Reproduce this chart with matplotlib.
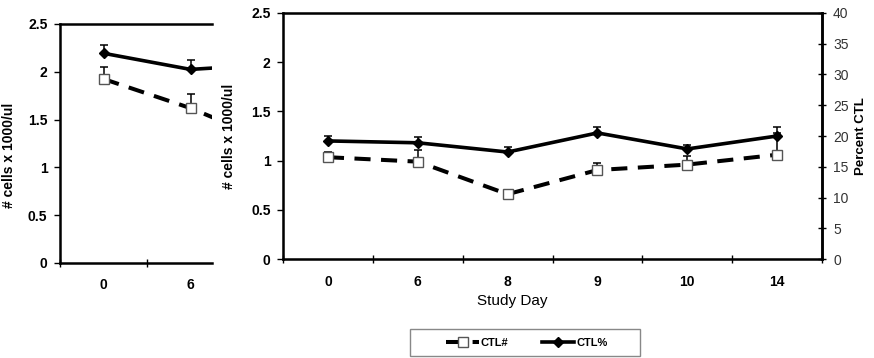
import numpy as np
import matplotlib
matplotlib.use("Agg")
import matplotlib.pyplot as plt
from matplotlib.lines import Line2D
from matplotlib.patches import Rectangle

plt.rcParams['font.family'] = ['Liberation Sans', 'DejaVu Sans']

# main panel data
days = ["0", "6", "8", "9", "10", "14"]
ctl_num = [1.035, 0.99, 0.66, 0.905, 0.96, 1.06]
ctl_num_err = [0.05, 0.12, 0.0, 0.07, 0.09, 0.22]
ctl_pct = [19.2, 18.9, 17.4, 20.5, 17.9, 20.0]
ctl_pct_err = [0.8, 0.9, 0.8, 1.0, 0.7, 1.4]

# cropped panel on the left (only the first two days are visible)
left_days = ["0", "6", "8"]
left_num = [1.925, 1.62, 1.24]
left_num_err = [0.13, 0.15, 0.0]
left_pct = [35.1, 32.4, 33.3]
left_pct_err = [1.4, 1.6, 0.0]

W, H = 874, 358
fig = plt.figure(figsize=(W / 100, H / 100), dpi=100)

dash_style = dict(color='black', linestyle=(0, (4, 2.6)), linewidth=2.9,
                  marker='s', markersize=7, markerfacecolor='white',
                  markeredgecolor='#555555', markeredgewidth=1.0)
solid_style = dict(color='black', linestyle='-', linewidth=2.6,
                   marker='D', markersize=5, markerfacecolor='black',
                   markeredgecolor='black')
err_style = dict(fmt='none', ecolor='black', elinewidth=1.1, capsize=3,
                 capthick=1.1)


def style_axes(ax, n):
    for s in ['left', 'bottom', 'top', 'right']:
        ax.spines[s].set_linewidth(1.8)
    ax.set_ylim(0, 2.5)
    ax.set_yticks(np.arange(0, 2.51, 0.5))
    ax.set_yticklabels(['0', '0.5', '1', '1.5', '2', '2.5'])
    ax.tick_params(axis='y', direction='out', length=4, width=1, pad=5,
                   labelsize=10)
    for t in ax.get_yticklabels():
        t.set_fontweight('bold')
    ax.set_xticks(np.arange(n), minor=False)
    ax.set_xticks(np.arange(n + 1) - 0.5, minor=True)
    ax.tick_params(axis='x', which='major', length=0, pad=11, labelsize=10)
    ax.tick_params(axis='x', which='minor', direction='inout', length=6,
                   width=1)


# ---- left (cropped) panel ----
axl = fig.add_axes([60 / W, 1 - 263 / H, 152 / W, 239 / H])
axl2 = axl.twinx()
xl = np.arange(len(left_days))
axl.plot(xl, left_num, **dash_style, zorder=3)
axl.errorbar(xl, left_num, yerr=[np.zeros(len(xl)), left_num_err], **err_style)
axl2.plot(xl, left_pct, **solid_style, zorder=3)
axl2.errorbar(xl, left_pct, yerr=[np.zeros(len(xl)), left_pct_err], **err_style)
style_axes(axl, len(left_days))
axl.set_xticklabels(left_days, fontweight='bold')
axl.set_xlim(-0.5, -0.5 + 152 / 87)
axl.spines['right'].set_visible(False)
axl2.set_ylim(0, 40)
axl2.set_xlim(-0.5, -0.5 + 152 / 87)
axl2.axis('off')
axl.set_ylabel('# cells x 1000/ul', fontsize=10, fontweight='bold')
axl.yaxis.set_label_coords(-0.29, 0.45)

# ---- main panel ----
ax = fig.add_axes([283 / W, 1 - 259.3 / H, 539 / W, 246.6 / H])
ax2 = ax.twinx()
x = np.arange(len(days))
ax.plot(x, ctl_num, **dash_style, zorder=3)
ax.errorbar(x, ctl_num, yerr=[np.zeros(len(x)), ctl_num_err], **err_style)
ax2.plot(x, ctl_pct, **solid_style, zorder=3)
ax2.errorbar(x, ctl_pct, yerr=[np.zeros(len(x)), ctl_pct_err], **err_style)
style_axes(ax, len(days))
ax.set_xticklabels(days, fontweight='bold')
ax.set_xlim(-0.5, len(days) - 0.5)
ax.set_ylabel('# cells x 1000/ul', fontsize=10, fontweight='bold')
ax.yaxis.set_label_coords(-0.088, 0.5)
ax.set_xlabel('Study Day', fontsize=11)
ax.xaxis.set_label_coords(0.425, -0.14)

ax2.set_ylim(0, 40)
ax2.set_yticks(np.arange(0, 41, 5))
ax2.tick_params(axis='y', direction='inout', length=6, width=1, pad=5,
                labelsize=10, labelcolor='#333333')
ax2.spines['right'].set_linewidth(1.8)
ax2.set_ylabel('Percent CTL', fontsize=9.5, fontweight='bold')
ax2.yaxis.set_label_coords(1.062, 0.5)

# legend (frame drawn separately to get the wide box)
fig.patches.append(Rectangle((410 / W, 1 - 356 / H), 230 / W, 27 / H,
                             transform=fig.transFigure, fill=False,
                             edgecolor='#888888', linewidth=1.0))
handles = [Line2D([], [], **dash_style), Line2D([], [], **solid_style)]
leg = fig.legend(handles, ['CTL#', 'CTL%'], loc='center',
                 bbox_to_anchor=(527 / W, 1 - 342.5 / H), ncol=2,
                 frameon=False, handlelength=2.9, columnspacing=3.0,
                 handletextpad=0.2,
                 prop={'size': 8, 'weight': 'bold'})

fig.savefig('out.png', dpi=100)
